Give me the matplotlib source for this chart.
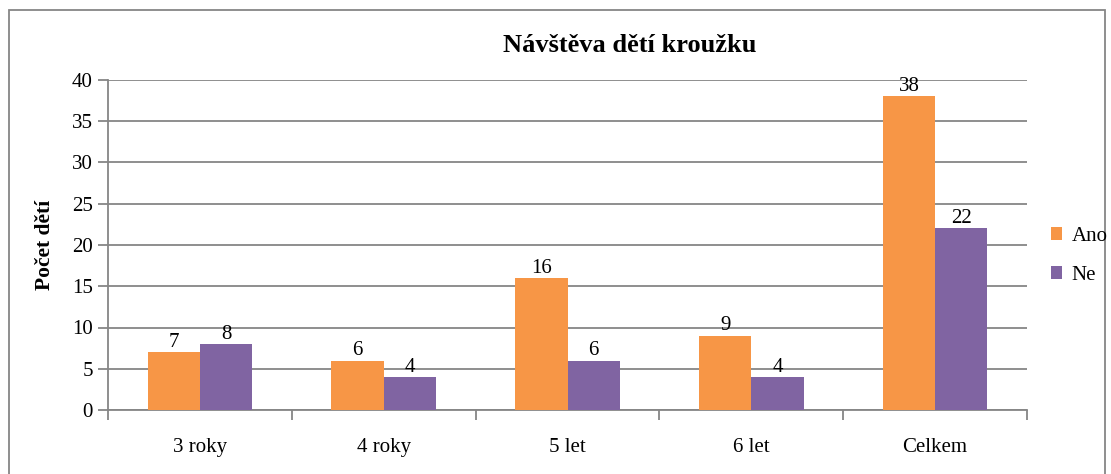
import matplotlib
matplotlib.use("Agg")
import matplotlib.pyplot as plt
from matplotlib.patches import Rectangle
import numpy as np

categories = ["3 roky", "4 roky", "5 let", "6 let", "Celkem"]
ano = [7, 6, 16, 9, 38]
ne = [8, 4, 6, 4, 22]
series_names = ["Ano", "Ne"]
yticks = [0, 5, 10, 15, 20, 25, 30, 35, 40]

plt.rcParams['font.family'] = ['Liberation Serif', 'DejaVu Serif']

W, H = 1111, 474
fig = plt.figure(figsize=(W / 100, H / 100), dpi=100)
ax = fig.add_axes([108 / W, 1 - 410 / H, (1027 - 108) / W, (410 - 80) / H])

orange = "#F79646"
purple = "#8064A2"
grid_c = "#868686"
fs = 15

x = np.arange(len(categories))
bw = 0.285
b1 = ax.bar(x - bw / 2, ano, bw, color=orange, label=series_names[0], zorder=3)
b2 = ax.bar(x + bw / 2, ne, bw, color=purple, label=series_names[1], zorder=3)

for bars, vals in ((b1, ano), (b2, ne)):
    for r, v in zip(bars, vals):
        ax.text(r.get_x() + r.get_width() / 2, v + 0.05, str(v), ha="center", va="bottom",
                fontsize=fs, color="black", zorder=4)

ax.set_xlim(-0.5, len(categories) - 0.5)
ax.set_ylim(0, 40)
ax.set_yticks(yticks)
ax.set_yticklabels([str(t) for t in yticks], fontsize=fs)
ax.yaxis.grid(True, color=grid_c, linewidth=1.3, zorder=0)
ax.set_axisbelow(True)

ax.set_xticks(np.arange(-0.5, len(categories), 1.0))
ax.set_xticklabels([])
ax.set_xticks(x, minor=True)
ax.set_xticklabels(categories, minor=True, fontsize=fs)
ax.tick_params(axis="x", which="minor", length=0, pad=20)
ax.tick_params(axis="x", which="major", length=7, width=1.3, color=grid_c, direction="out")
ax.tick_params(axis="y", length=7, width=1.3, color=grid_c, direction="out", pad=4)

for s in ("top", "right"):
    ax.spines[s].set_visible(False)
for s in ("left", "bottom"):
    ax.spines[s].set_color(grid_c)
    ax.spines[s].set_linewidth(1.3)

ax.set_ylabel("Počet dětí", fontsize=15.5, fontweight="bold", labelpad=12)

fig.text(630 / W, 1 - 46 / H, "Návštěva dětí kroužku", ha="center", va="center",
         fontsize=19, fontweight="bold")

leg = fig.legend(handles=[b1, b2], labels=series_names, loc="center left",
                 bbox_to_anchor=(1051 / W, 1 - 256 / H), frameon=False, fontsize=fs,
                 handlelength=0.55, handleheight=0.55, handletextpad=0.45,
                 labelspacing=0.95, borderpad=0, borderaxespad=0)

fig.patches.append(Rectangle((9 / W, -0.1), (1105 - 9) / W, 1.1 - 10 / H,
                             transform=fig.transFigure, fill=False,
                             edgecolor="#868686", linewidth=1.3))

fig.savefig("out.png", dpi=100)
